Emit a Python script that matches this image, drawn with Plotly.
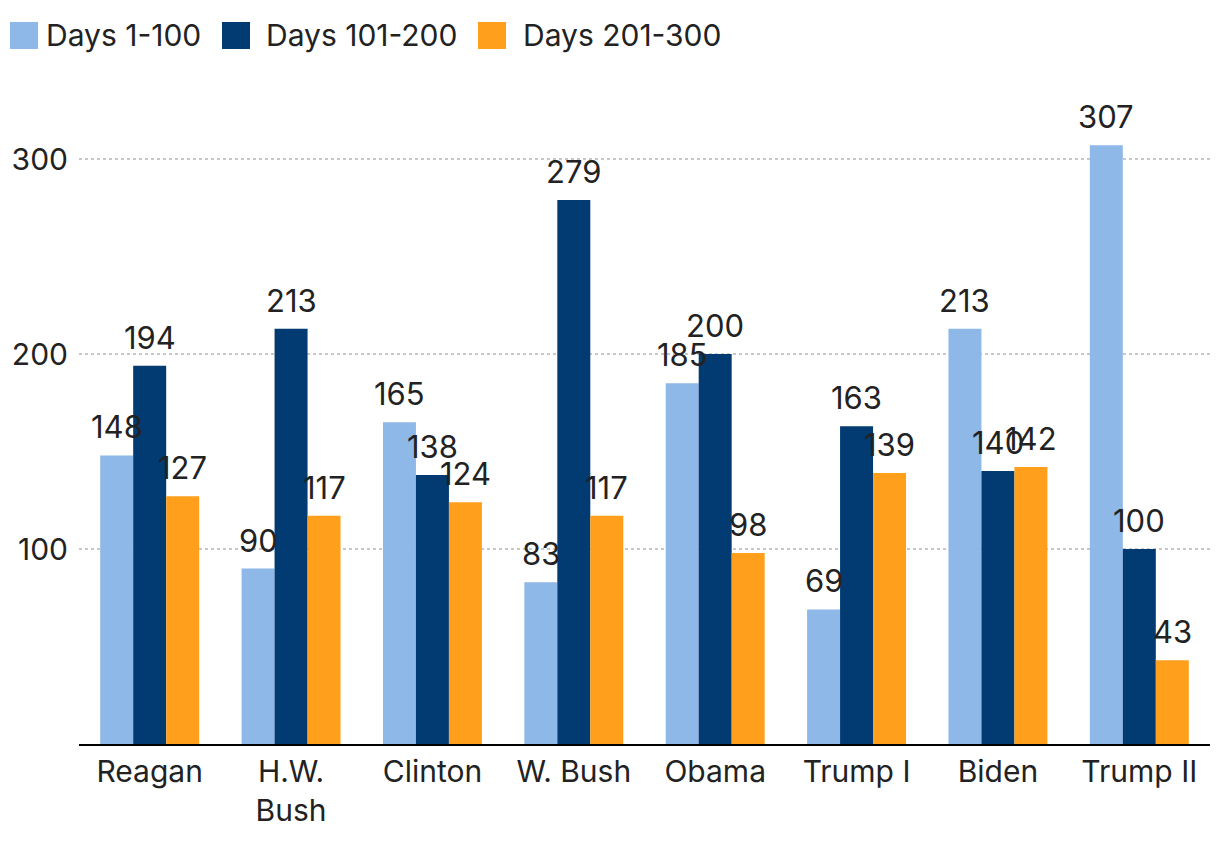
import plotly.graph_objects as go

categories = ["Reagan", "H.W.<br>Bush", "Clinton", "W. Bush", "Obama", "Trump I", "Biden", "Trump II"]
days_1_100 = [148, 90, 165, 83, 185, 69, 213, 307]
days_101_200 = [194, 213, 138, 279, 200, 163, 140, 100]
days_201_300 = [127, 117, 124, 117, 98, 139, 142, 43]
series_names = ["Days 1-100", "Days 101-200", "Days 201-300"]
colors = ["#8db8e8", "#023a72", "#ff9f1c"]

FONT = "Inter, Roboto, sans-serif"
FS = 30
TXT = "#222222"
W, H = 1212, 842
ML, MR, MT, MB = 71, 10, 112, 106
BARGAP = 0.3
plot_w = W - ML - MR
plot_h = H - MT - MB

def px_x(px):
    return (px - ML) / plot_w

def px_y(py):
    return (H - MB - py) / plot_h

fig = go.Figure()
all_series = [days_1_100, days_101_200, days_201_300]
for name, vals, col in zip(series_names, all_series, colors):
    fig.add_trace(go.Bar(
        x=categories, y=vals, name=name, marker=dict(color=col, line=dict(width=0)),
        showlegend=False,
    ))

# value labels above each bar
bar_px = plot_w / len(categories) * (1 - BARGAP) / len(all_series)
annotations = []
for i, vals in enumerate(all_series):
    for cat, v in zip(categories, vals):
        annotations.append(dict(
            x=cat, y=v, xref="x", yref="y", text=str(v), showarrow=False,
            xshift=(i - 1) * bar_px, yanchor="bottom", yshift=8,
            font=dict(family=FONT, size=31, color=TXT),
        ))

# custom legend (large square swatches)
legend_square_x = [2, 214, 470]
legend_text_x = [36, 256, 513]
shapes = []
for name, col, sx, tx in zip(series_names, colors, legend_square_x, legend_text_x):
    shapes.append(dict(type="rect", xref="paper", yref="paper",
                       x0=px_x(sx), x1=px_x(sx + 28), y0=px_y(41), y1=px_y(14),
                       fillcolor=col, line=dict(width=0), layer="above"))
    annotations.append(dict(x=px_x(tx), y=px_y(27.5), xref="paper", yref="paper",
                            text=name, showarrow=False, xanchor="left", yanchor="middle",
                            font=dict(family=FONT, size=30, color=TXT)))

fig.update_layout(
    width=W, height=H,
    barmode="group", bargap=BARGAP, bargroupgap=0,
    plot_bgcolor="white", paper_bgcolor="white",
    margin=dict(l=ML, r=MR, t=MT, b=MB, autoexpand=False),
    font=dict(family=FONT, size=FS, color=TXT),
    annotations=annotations, shapes=shapes,
    showlegend=False,
)
fig.update_yaxes(range=[0, 320], tickvals=[100, 200, 300], showgrid=True,
                 gridcolor="#c8c8c8", griddash="dot", gridwidth=1.5, automargin=False,
                 zeroline=False, showline=False, ticks="", ticklabelstandoff=10,
                 tickfont=dict(size=FS, color=TXT))
fig.update_xaxes(showline=True, linecolor="black", linewidth=2, ticks="", automargin=False,
                 tickfont=dict(size=FS, color=TXT), showgrid=False)

fig.write_html("out.html")
